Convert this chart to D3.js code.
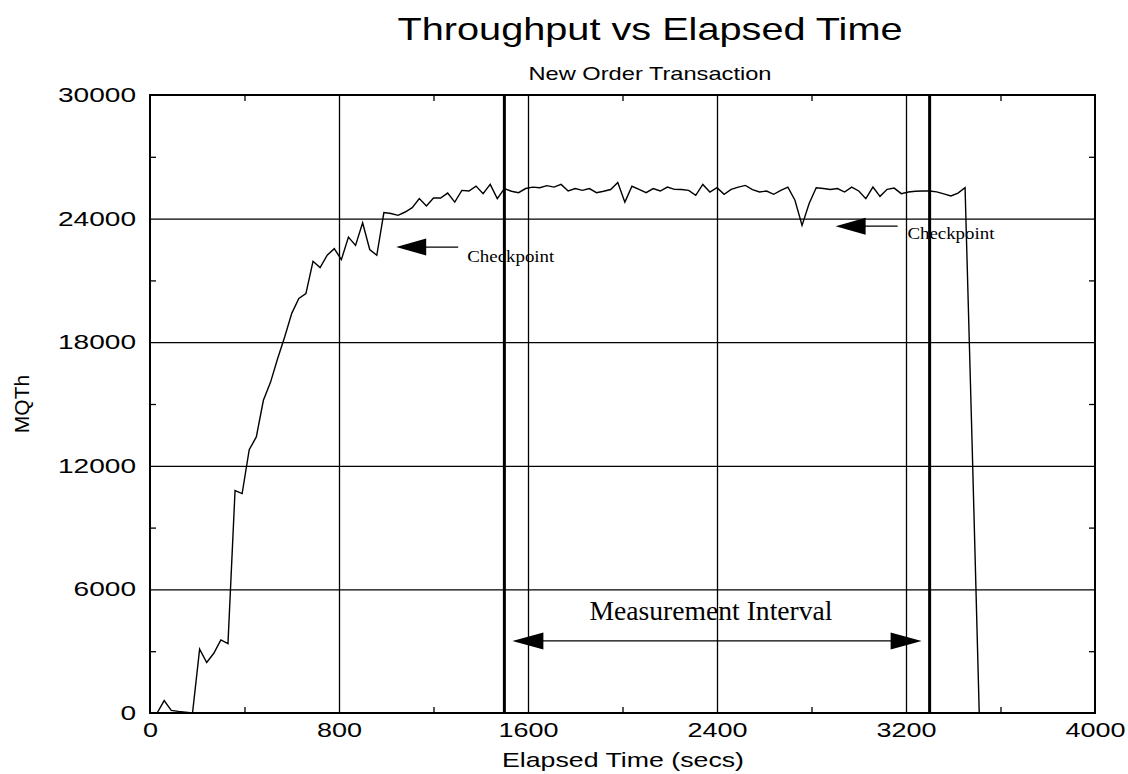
<!DOCTYPE html>
<html>
<head>
<meta charset="utf-8">
<script src="https://cdnjs.cloudflare.com/ajax/libs/d3/7.8.5/d3.min.js"></script>
<style>
  body { margin: 0; background: #fff; }
  .sans { font-family: "Liberation Sans", Arial, Helvetica, sans-serif; }
  .serif { font-family: "Liberation Serif", "Times New Roman", serif; }
  .grid line { stroke: #000; stroke-width: 1.3; }
  .grid path, .minor path, .labels path { display: none; }
  .minor line { stroke: #000; stroke-width: 1.3; }
</style>
</head>
<body>
<div class="graph"></div>
<script>
// elapsed seconds of each sample and the MQTh reading at that time
var elapsed = [
  0, 30, 60, 90, 120, 150, 180, 210, 240, 270, 300, 330, 360, 390, 420, 450, 480, 510, 540, 570,
  600, 630, 660, 690, 720, 750, 780, 810, 840, 870, 900, 930, 960, 990, 1020, 1050, 1080, 1110, 1140, 1170,
  1200, 1230, 1260, 1290, 1320, 1350, 1380, 1410, 1440, 1470, 1500, 1530, 1560, 1590, 1620, 1650, 1680, 1710, 1740, 1770,
  1800, 1830, 1860, 1890, 1920, 1950, 1980, 2010, 2040, 2070, 2100, 2130, 2160, 2190, 2220, 2250, 2280, 2310, 2340, 2370,
  2400, 2430, 2460, 2490, 2520, 2550, 2580, 2610, 2640, 2670, 2700, 2730, 2760, 2790, 2820, 2850, 2880, 2910, 2940, 2970,
  3000, 3030, 3060, 3090, 3120, 3150, 3180, 3210, 3240, 3270, 3300, 3330, 3360, 3390, 3420, 3450, 3480, 3510, 3540, 3570,
  3600
];

var mqth = [
  0, 0, 600, 130, 80, 40, 0, 3100, 2450, 2900, 3550, 3370, 10800, 10650, 12780, 13400, 15180, 16050, 17200, 18250,
  19400, 20120, 20360, 21930, 21620, 22220, 22540, 22010, 23100, 22700, 23800, 22500, 22220, 24290, 24250, 24160, 24320, 24530, 24970, 24610,
  25000, 25000, 25240, 24800, 25370, 25340, 25580, 25210, 25660, 24970, 25460, 25330, 25260, 25460, 25530, 25500, 25600, 25530, 25660, 25340,
  25460, 25370, 25460, 25260, 25330, 25410, 25750, 24800, 25570, 25420, 25260, 25460, 25340, 25530, 25420, 25410, 25370, 25130, 25660, 25290,
  25500, 25180, 25420, 25530, 25610, 25410, 25290, 25340, 25180, 25370, 25530, 24890, 23670, 24730, 25500, 25460, 25410, 25460, 25290, 25530,
  25340, 24970, 25530, 25080, 25420, 25480, 25210, 25290, 25330, 25340, 25340, 25300, 25200, 25100, 25240, 25500, 13000, 0, 0, 0,
  0
];

var xTicks = [0, 800, 1600, 2400, 3200, 4000];
var xMinorTicks = [400, 1200, 2000, 2800, 3600];
var yTicks = [0, 6000, 12000, 18000, 24000, 30000];
var yMinorTicks = [3000, 9000, 15000, 21000, 27000];

// start and end of the measurement interval (secs)
var intervalBounds = [1500, 3300];

// checkpoint markers: arrow tip (secs, MQTh) and label anchor
var checkpoints = [
  {tipX: 1042, tipY: 22620, textX: 1343, textY: 21890},
  {tipX: 2902, tipY: 23630, textX: 3206, textY: 23030}
];

var margin = {top: 95, right: 33, bottom: 61, left: 150},
    totalWidth = 1128,
    totalHeight = 774;

var x = d3.scaleLinear().domain([0, 4000]).range([margin.left, totalWidth - margin.right]),
    y = d3.scaleLinear().domain([0, 30000]).range([totalHeight - margin.bottom, margin.top]);

draw();

function draw() {
  var left = x.range()[0], right = x.range()[1],
      bottom = y.range()[0], top = y.range()[1];

  var svg = d3.select('.graph')
              .append('svg')
              .attr('width', totalWidth)
              .attr('height', totalHeight);

  svg.append('rect')
     .attr('width', totalWidth)
     .attr('height', totalHeight)
     .attr('fill', '#fff');

  // titles
  svg.append('text')
     .attr('class', 'sans')
     .attr('x', 650)
     .attr('y', 40)
     .attr('text-anchor', 'middle')
     .attr('font-size', 32)
     .attr('textLength', 505)
     .attr('lengthAdjust', 'spacingAndGlyphs')
     .text('Throughput vs Elapsed Time');

  svg.append('text')
     .attr('class', 'sans')
     .attr('x', 650)
     .attr('y', 80)
     .attr('text-anchor', 'middle')
     .attr('font-size', 18.5)
     .attr('textLength', 243)
     .attr('lengthAdjust', 'spacingAndGlyphs')
     .text('New Order Transaction');

  // grid lines
  svg.append('g')
     .attr('class', 'grid')
     .attr('transform', 'translate(0,' + bottom + ')')
     .call(d3.axisBottom(x).tickValues([800, 1600, 2400, 3200]).tickSize(-(bottom - top)).tickFormat(''));

  svg.append('g')
     .attr('class', 'grid')
     .attr('transform', 'translate(' + left + ',0)')
     .call(d3.axisLeft(y).tickValues([6000, 12000, 18000, 24000]).tickSize(-(right - left)).tickFormat(''));

  // small inside ticks on all four sides
  svg.append('g').attr('class', 'minor')
     .attr('transform', 'translate(0,' + bottom + ')')
     .call(d3.axisBottom(x).tickValues(xMinorTicks).tickSize(-6).tickFormat(''));
  svg.append('g').attr('class', 'minor')
     .attr('transform', 'translate(0,' + top + ')')
     .call(d3.axisTop(x).tickValues(xMinorTicks).tickSize(-6).tickFormat(''));
  svg.append('g').attr('class', 'minor')
     .attr('transform', 'translate(' + left + ',0)')
     .call(d3.axisLeft(y).tickValues(yMinorTicks).tickSize(-6).tickFormat(''));
  svg.append('g').attr('class', 'minor')
     .attr('transform', 'translate(' + right + ',0)')
     .call(d3.axisRight(y).tickValues(yMinorTicks).tickSize(-6).tickFormat(''));

  // measurement interval bounds
  svg.selectAll('.bound')
     .data(intervalBounds)
     .enter()
     .append('line')
     .attr('class', 'bound')
     .attr('x1', function(d) { return x(d); })
     .attr('x2', function(d) { return x(d); })
     .attr('y1', top)
     .attr('y2', bottom)
     .attr('stroke', '#000')
     .attr('stroke-width', 3);

  // throughput line
  var points = elapsed.map(function(t, i) { return [t, mqth[i]]; });

  svg.append('path')
     .datum(points)
     .attr('fill', 'none')
     .attr('stroke', '#000')
     .attr('stroke-width', 1.4)
     .attr('stroke-linejoin', 'miter')
     .attr('d', d3.line().x(function(d) { return x(d[0]); }).y(function(d) { return y(d[1]); }));

  // frame
  svg.append('rect')
     .attr('x', left)
     .attr('y', top)
     .attr('width', right - left)
     .attr('height', bottom - top)
     .attr('fill', 'none')
     .attr('stroke', '#000')
     .attr('stroke-width', 2);

  // tick labels
  svg.append('g')
     .attr('class', 'labels xl sans')
     .attr('transform', 'translate(0,' + bottom + ')')
     .call(d3.axisBottom(x).tickValues(xTicks).tickSize(0).tickPadding(10).tickFormat(d3.format('d')));

  svg.append('g')
     .attr('class', 'labels yl sans')
     .attr('transform', 'translate(' + left + ',0)')
     .call(d3.axisLeft(y).tickValues(yTicks).tickSize(0).tickPadding(14).tickFormat(d3.format('d')));

  svg.selectAll('.labels text')
     .attr('font-family', '"Liberation Sans", Arial, sans-serif')
     .attr('font-size', 20)
     .attr('fill', '#000')
     .attr('lengthAdjust', 'spacingAndGlyphs');

  svg.selectAll('.xl text').attr('textLength', function(d) { return String(d).length * 15; });
  svg.selectAll('.yl text').attr('textLength', function(d) { return String(d).length * 15.6; });

  // axis titles
  svg.append('text')
     .attr('class', 'sans')
     .attr('x', 623)
     .attr('y', 767)
     .attr('text-anchor', 'middle')
     .attr('font-size', 21)
     .attr('textLength', 242)
     .attr('lengthAdjust', 'spacingAndGlyphs')
     .text('Elapsed Time (secs)');

  svg.append('text')
     .attr('class', 'sans')
     .attr('transform', 'translate(29,' + ((top + bottom) / 2) + ') rotate(-90)')
     .attr('text-anchor', 'middle')
     .attr('font-size', 21)
     .text('MQTh');

  // checkpoint arrows
  var cp = svg.selectAll('.checkpoint')
              .data(checkpoints)
              .enter()
              .append('g')
              .attr('class', 'checkpoint');

  cp.append('path')
    .attr('d', function(d) {
      var tx = x(d.tipX), ty = y(d.tipY);
      return 'M' + tx + ',' + ty + 'L' + (tx + 30) + ',' + (ty - 8.5) + 'L' + (tx + 30) + ',' + (ty + 8.5) + 'Z';
    })
    .attr('fill', '#000');

  cp.append('line')
    .attr('x1', function(d) { return x(d.tipX) + 29; })
    .attr('x2', function(d) { return x(d.tipX) + 62; })
    .attr('y1', function(d) { return y(d.tipY); })
    .attr('y2', function(d) { return y(d.tipY); })
    .attr('stroke', '#000')
    .attr('stroke-width', 1.3);

  cp.append('text')
    .attr('class', 'serif')
    .attr('x', function(d) { return x(d.textX); })
    .attr('y', function(d) { return y(d.textY); })
    .attr('font-size', 16)
    .attr('textLength', 87)
    .attr('lengthAdjust', 'spacingAndGlyphs')
    .text('Checkpoint');

  // measurement interval arrow
  var arrowY = y(3500),
      x1 = x(intervalBounds[0]) + 8,
      x2 = x(intervalBounds[1]) - 8;

  svg.append('line')
     .attr('x1', x1 + 28)
     .attr('x2', x2 - 28)
     .attr('y1', arrowY)
     .attr('y2', arrowY)
     .attr('stroke', '#000')
     .attr('stroke-width', 1.3);

  svg.append('path')
     .attr('d', 'M' + x1 + ',' + arrowY + 'L' + (x1 + 31) + ',' + (arrowY - 8.5) + 'L' + (x1 + 31) + ',' + (arrowY + 8.5) + 'Z' +
                'M' + x2 + ',' + arrowY + 'L' + (x2 - 31) + ',' + (arrowY - 8.5) + 'L' + (x2 - 31) + ',' + (arrowY + 8.5) + 'Z')
     .attr('fill', '#000');

  svg.append('text')
     .attr('class', 'serif')
     .attr('x', 711)
     .attr('y', 620)
     .attr('text-anchor', 'middle')
     .attr('font-size', 27)
     .attr('textLength', 243)
     .attr('lengthAdjust', 'spacingAndGlyphs')
     .text('Measurement Interval');
}
</script>
</body>
</html>
